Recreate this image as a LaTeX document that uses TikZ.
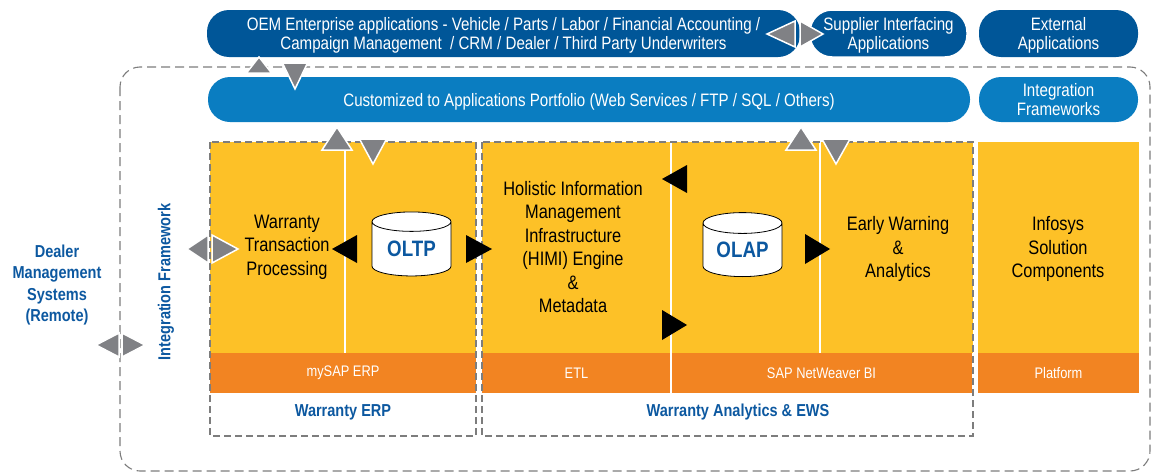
\documentclass[tikz,border=0pt]{standalone}
\usepackage{fontspec}
\setmainfont{Liberation Sans}[FakeStretch=0.84]
\usetikzlibrary{shapes.geometric}

\definecolor{oemblue}{RGB}{0,86,152}
\definecolor{midblue}{RGB}{10,125,193}
\definecolor{infoyellow}{RGB}{253,193,39}
\definecolor{infoorange}{RGB}{242,132,34}
\definecolor{arrgray}{RGB}{128,129,133}
\definecolor{labelblue}{RGB}{12,88,160}
\definecolor{dashgray}{RGB}{125,125,125}

\tikzset{
  pill/.style={rectangle, rounded corners=22pt, text=white, align=center, inner sep=0pt,
    text depth=0pt, font=\fontsize{18}{19.5}\selectfont},
  ybox/.style={fill=infoyellow, inner sep=0pt},
  oband/.style={fill=infoorange, text=white, inner sep=0pt, minimum height=40pt,
    font=\fontsize{15.3}{17}\selectfont},
  body/.style={align=center, text depth=0pt, font=\fontsize{19.5}{23.5}\selectfont},
  boldlbl/.style={text=labelblue, align=center, font=\bfseries\fontsize{17.3}{21.3}\selectfont},
  db/.style={cylinder, shape border rotate=90, aspect=0.4, draw=black, fill=white, line width=0.8pt,
    text=labelblue, font=\bfseries\fontsize{22.3}{24}\selectfont,
    minimum width=79pt, minimum height=64pt, inner sep=0pt},
  grayarr/.style={fill=arrgray, draw=white, line width=1.5pt, line join=miter},
  blackarr/.style={fill=black},
  grpbox/.style={draw=dashgray, line width=1.3pt, dash pattern=on 7pt off 4pt},
  outerbox/.style={draw=dashgray, line width=1.1pt, dash pattern=on 9pt off 5pt, rounded corners=20pt},
  sep/.style={draw=white, line width=1.2pt}
}

\begin{document}
\begin{tikzpicture}[x=1pt, y=-1pt]
  \useasboundingbox (0,0) rectangle (1153,474);

  % outer integration framework boundary
  \draw[outerbox] (120,67) rectangle (1150,471);

  % top application layers
  \node[pill, fill=oemblue, minimum width=593pt, minimum height=47pt] (oem) at (503.5,33.5)
    {OEM Enterprise applications - Vehicle / Parts / Labor / Financial Accounting /\\
     Campaign Management~ / CRM / Dealer / Third Party Underwriters};
  \node[pill, fill=oemblue, draw=white, line width=1.5pt, minimum width=157pt, minimum height=47pt] (supp) at (888.5,33.5)
    {Supplier Interfacing\\Applications};
  \node[pill, fill=oemblue, minimum width=159pt, minimum height=47pt] (extapp) at (1058.5,33.5)
    {External\\Applications};
  \node[pill, fill=midblue, minimum width=762pt, minimum height=45pt] (custom) at (589,99.5)
    {Customized to Applications Portfolio (Web Services / FTP / SQL / Others)};
  \node[pill, fill=midblue, minimum width=159pt, minimum height=45pt] (intfw) at (1058.5,99.5)
    {Integration\\Frameworks};

  % solution blocks
  \node[ybox, minimum width=266pt, minimum height=211pt] (erpblk) at (343,247.5) {};
  \node[ybox, minimum width=491pt, minimum height=211pt] (anablk) at (727.5,247.5) {};
  \node[ybox, minimum width=161pt, minimum height=211pt] (infblk) at (1058.5,247.5) {};

  \node[oband, minimum width=266pt] (mysap) at (343,373) {mySAP ERP};
  \node[oband, minimum width=189pt] (etl) at (576.5,373) {ETL};
  \node[oband, minimum width=301pt] (sapbi) at (821.5,373) {SAP NetWeaver BI};
  \node[oband, minimum width=161pt] (platf) at (1058.5,373) {Platform};

  \draw[sep] (345,142) -- (345,353);
  \draw[sep] (671,142) -- (671,393);
  \draw[sep] (820,142) -- (820,353);

  \draw[grpbox] (210,142) rectangle (476,436);
  \draw[grpbox] (482,142) rectangle (973,436);

  % labels
  \node[boldlbl] (dealer) at (57,285) {Dealer\\Management\\Systems\\(Remote)};
  \node[boldlbl, rotate=90] (intlbl) at (166,282) {Integration Framework};
  \node[body] (wtp) at (287,245) {Warranty\\Transaction\\Processing};
  \node[body] (himi) at (573,247) {Holistic Information\\Management\\Infrastructure\\(HIMI) Engine\\\&\\Metadata};
  \node[body] (ewa) at (898,247) {Early Warning\\\&\\Analytics};
  \node[body] (infsc) at (1058,247) {Infosys\\Solution\\Components};
  \node[boldlbl] (werp) at (343,412) {Warranty ERP};
  \node[boldlbl] (wana) at (738,412) {Warranty Analytics \& EWS};

  \node[db] (oltp) at (411.5,249) {OLTP};
  \node[db] (olap) at (742.5,250) {OLAP};

  % gray exchange arrows
  \filldraw[grayarr] (259,57) -- (271.5,73) -- (246.5,73) -- cycle;
  \filldraw[grayarr] (295,89) -- (282.5,63) -- (307.5,63) -- cycle;
  \filldraw[grayarr] (337,127) -- (352,150) -- (322,150) -- cycle;
  \filldraw[grayarr] (373,164) -- (359.5,139) -- (386.5,139) -- cycle;
  \filldraw[grayarr] (801,127) -- (816,150) -- (786,150) -- cycle;
  \filldraw[grayarr] (836,164) -- (822,139) -- (850,139) -- cycle;
  \filldraw[grayarr] (767,34) -- (795,21) -- (795,47) -- cycle;
  \filldraw[grayarr] (823,34) -- (800,21) -- (800,47) -- cycle;
  \filldraw[grayarr] (96,345) -- (119,333) -- (119,357) -- cycle;
  \filldraw[grayarr] (145,345) -- (122,333) -- (122,357) -- cycle;
  \filldraw[grayarr] (187,249) -- (208,235) -- (208,263) -- cycle;
  \filldraw[grayarr] (238,249) -- (212,235) -- (212,263) -- cycle;

  % black flow arrows
  \fill[blackarr] (332,249) -- (357,235) -- (357,263) -- cycle;
  \fill[blackarr] (492,249) -- (466,235) -- (466,263) -- cycle;
  \fill[blackarr] (662,179) -- (687,165) -- (687,193) -- cycle;
  \fill[blackarr] (687,325) -- (662,310) -- (662,340) -- cycle;
  \fill[blackarr] (830,249) -- (805,234) -- (805,264) -- cycle;
\end{tikzpicture}
\end{document}
